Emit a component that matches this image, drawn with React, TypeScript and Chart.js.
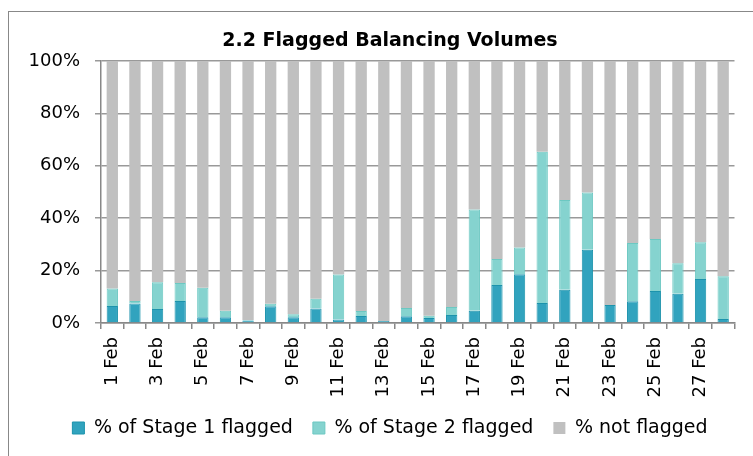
import React, { useEffect, useRef } from "react";
import { Chart, registerables } from "chart.js";

Chart.register(...registerables);

const days: string[] = Array.from({ length: 28 }, (_, i) => `${i + 1} Feb`);
const stage1: number[] = [6.5, 7.4, 5.3, 8.4, 2.2, 2.2, 1.0, 6.4, 2.2, 5.5, 1.3, 2.7, 0.8, 2.6, 1.9, 3.1, 4.7, 14.5, 18.6, 7.6, 12.7, 28.0, 6.9, 8.3, 12.2, 11.2, 16.8, 1.5];
const stage2: number[] = [6.7, 1.0, 10.3, 6.9, 11.3, 2.5, 0.1, 0.9, 1.1, 3.8, 17.2, 1.9, 0.0, 3.1, 0.9, 3.0, 38.6, 9.9, 10.2, 57.8, 34.2, 21.8, 0.0, 22.2, 19.9, 11.6, 14.0, 16.3];
const notFlagged: number[] = stage1.map((v, i) => Math.round((100 - v - stage2[i]) * 10) / 10);
const yTicks: number[] = [0, 20, 40, 60, 80, 100];

const FONT = "'DejaVu Sans', sans-serif";

export default function App() {
  const ref = useRef<HTMLCanvasElement | null>(null);
  useEffect(() => {
    if (!ref.current) return;
    const chart = new Chart(ref.current, {
      type: "bar",
      data: {
        labels: days,
        datasets: [
          {
            label: "% of Stage 1 flagged",
            data: stage1,
            backgroundColor: "#31A3BE",
            borderColor: "#1C93AC",
            borderWidth: 1,
            barPercentage: 0.5,
            categoryPercentage: 1,
          },
          {
            label: "% of Stage 2 flagged",
            data: stage2,
            backgroundColor: "#85D3CF",
            borderColor: "#6CC8C2",
            borderWidth: 1,
            barPercentage: 0.5,
            categoryPercentage: 1,
          },
          {
            label: "% not flagged",
            data: notFlagged,
            backgroundColor: "#C0C0C0",
            borderColor: "#C0C0C0",
            borderWidth: 0,
            barPercentage: 0.5,
            categoryPercentage: 1,
          },
        ],
      },
      options: {
        responsive: false,
        animation: false,
        layout: { padding: { left: 27, right: 0, top: 30, bottom: 8.5 } },
        plugins: {
          title: {
            display: true,
            text: "2.2 Flagged Balancing Volumes",
            color: "#000",
            font: { family: FONT, size: 19, weight: "bold", lineHeight: 1.2 },
            padding: { top: 0, bottom: 8.2 },
          },
          legend: {
            position: "bottom",
            labels: {
              color: "#000",
              font: { family: FONT, size: 19 },
              boxWidth: 12,
              boxHeight: 12,
              padding: 20,
            },
          },
          tooltip: { enabled: false },
        },
        scales: {
          x: {
            stacked: true,
            afterFit: (s: any) => {
              s.height = 75.5;
            },
            grid: {
              display: true,
              drawOnChartArea: false,
              drawTicks: true,
              tickLength: 6,
              color: "#888",
              lineWidth: 1.5,
            },
            border: { display: true, color: "#888", width: 1.5 },
            ticks: {
              autoSkip: false,
              maxRotation: 90,
              minRotation: 90,
              padding: 8,
              color: "#000",
              font: { family: FONT, size: 18 },
              callback: (_v: any, i: number) => (i % 2 === 0 ? days[i] : ""),
            },
          },
          y: {
            stacked: true,
            min: 0,
            max: 100,
            afterFit: (s: any) => {
              s.width = 74;
            },
            afterBuildTicks: (s: any) => {
              s.ticks = yTicks.map((v) => ({ value: v }));
            },
            grid: {
              color: "#999",
              lineWidth: 1.5,
              tickLength: 6,
            },
            border: { display: true, color: "#888", width: 1.5 },
            ticks: {
              padding: 15,
              color: "#000",
              font: { family: FONT, size: 18 },
              callback: (v: any) => `${v}%`,
            },
          },
          spacer: {
            type: "linear",
            position: "right",
            display: true,
            afterFit: (s: any) => {
              s.width = 12;
            },
            grid: { display: false, drawTicks: false },
            border: { display: false },
            ticks: { display: false },
          },
        },
      },
    });
    return () => chart.destroy();
  }, []);

  return (
    <div style={{ position: "fixed", left: 0, top: 0, width: 753, height: 456, overflow: "hidden", background: "#fff" }}>
      <div
        style={{
          position: "absolute",
          left: 8,
          top: 11,
          width: 800,
          height: 500,
          border: "1px solid #888",
          boxSizing: "border-box",
        }}
      />
      <canvas ref={ref} width={753} height={456} style={{ position: "absolute", left: 0, top: 0 }} />
    </div>
  );
}
